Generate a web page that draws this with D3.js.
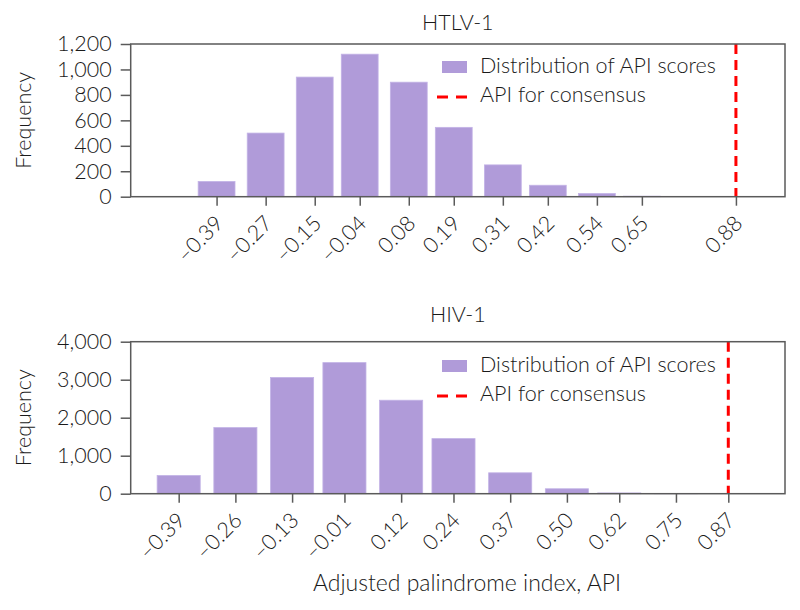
<!DOCTYPE html>
<html>
<head>
<meta charset="utf-8">
<script src="https://cdn.jsdelivr.net/npm/d3@7/dist/d3.min.js"></script>
<style>
  html, body { margin: 0; padding: 0; background: #fff; }
  text { font-family: Lato, "Open Sans", sans-serif; font-weight: 300; fill: #1a1a1a; }
</style>
</head>
<body>
<svg id="chart" width="800" height="610"></svg>
<script>
// ---- Data ----
const htlvBins = [-0.39, -0.27, -0.15, -0.04, 0.08, 0.19, 0.31, 0.42, 0.54, 0.65];
const htlvCounts = [120, 500, 940, 1120, 900, 545, 250, 90, 25, 4];
const htlvTicks = ["-0.39", "-0.27", "-0.15", "-0.04", "0.08", "0.19", "0.31", "0.42", "0.54", "0.65", "0.88"];
const htlvConsensus = 0.88;
const htlvYTicks = [0, 200, 400, 600, 800, 1000, 1200];

const hivBins = [-0.39, -0.26, -0.13, -0.01, 0.12, 0.24, 0.37, 0.50, 0.62, 0.75];
const hivCounts = [480, 1740, 3060, 3450, 2460, 1450, 550, 130, 20, 3];
const hivTicks = ["-0.39", "-0.26", "-0.13", "-0.01", "0.12", "0.24", "0.37", "0.50", "0.62", "0.75", "0.87"];
const hivConsensus = 0.87;
const hivYTicks = [0, 1000, 2000, 3000, 4000];

const titles = ["HTLV-1", "HIV-1"];
const legendLabels = ["Distribution of API scores", "API for consensus"];
const yLabel = "Frequency";
const xLabel = "Adjusted palindrome index, API";

// ---- Drawing ----
const svg = d3.select("#chart");
const barColor = "#b09bd9";
const axisColor = "#5a5a5a";
const fmt = d3.format(",");
const minus = s => s.replace("-", "\u2013");
const FS = "21.5px";

function panel(opt) {
  const { left, right, top, bottom, xDomain, yDomain, bins, counts, ticks, consensus, yTicks, title, titleY, legendY } = opt;
  const g = svg.append("g");
  const x = d3.scaleLinear().domain(xDomain).range([left, right]);
  const y = d3.scaleLinear().domain(yDomain).range([bottom, top]);

  const step = (bins[bins.length - 1] - bins[0]) / (bins.length - 1);
  const bw = (x(step) - x(0)) * 0.78;

  // bars
  g.selectAll("rect.bar").data(bins).join("rect")
    .attr("class", "bar")
    .attr("x", (d) => x(d) - bw / 2)
    .attr("width", bw)
    .attr("y", (d, i) => y(counts[i]))
    .attr("height", (d, i) => y(0) - y(counts[i]))
    .attr("fill", barColor)
    .attr("stroke", "#c3b3e6")
    .attr("stroke-width", 0.8);

  // consensus line
  g.append("line")
    .attr("x1", x(consensus)).attr("x2", x(consensus))
    .attr("y1", top).attr("y2", bottom)
    .attr("stroke", "#ff0000").attr("stroke-width", 3)
    .attr("stroke-dasharray", "10,6");

  // frame
  g.append("rect")
    .attr("x", left).attr("y", top)
    .attr("width", right - left).attr("height", bottom - top)
    .attr("fill", "none").attr("stroke", axisColor).attr("stroke-width", 1.5);

  // y axis
  const yAxis = d3.axisLeft(y).tickValues(yTicks).tickFormat(fmt).tickSize(10).tickPadding(9);
  const ya = g.append("g").attr("transform", `translate(${left},0)`).call(yAxis);
  ya.select(".domain").remove();
  ya.selectAll(".tick line").attr("stroke", axisColor).attr("stroke-width", 1.5);
  ya.selectAll(".tick text").style("font-size", FS).attr("fill", "#1a1a1a")
    .style("font-family", "Lato, 'Open Sans', sans-serif").style("font-weight", 300);

  // x axis
  const xAxis = d3.axisBottom(x).tickValues(ticks.map(Number)).tickSize(9).tickFormat("");
  const xa = g.append("g").attr("transform", `translate(0,${bottom})`).call(xAxis);
  xa.select(".domain").remove();
  xa.selectAll(".tick line").attr("stroke", axisColor).attr("stroke-width", 1.5);
  g.selectAll("text.xtick").data(ticks).join("text")
    .attr("class", "xtick")
    .attr("transform", d => `translate(${x(+d) + 8},${bottom + 28}) rotate(-45)`)
    .attr("text-anchor", "end")
    .style("font-size", FS)
    .text(d => minus(d));

  // title
  g.append("text").attr("x", (left + right) / 2).attr("y", titleY)
    .attr("text-anchor", "middle").style("font-size", FS).text(title);

  // y label
  g.append("text")
    .attr("transform", `translate(31,${(top + bottom) / 2}) rotate(-90)`)
    .attr("text-anchor", "middle").style("font-size", FS).text(yLabel);

  // legend
  g.append("rect").attr("x", 442).attr("y", legendY - 12).attr("width", 25).attr("height", 12)
    .attr("fill", barColor);
  g.append("text").attr("x", 480).attr("y", legendY).style("font-size", FS).text(legendLabels[0]);
  g.append("line").attr("x1", 437).attr("x2", 467)
    .attr("y1", legendY + 24).attr("y2", legendY + 24)
    .attr("stroke", "#ff0000").attr("stroke-width", 3).attr("stroke-dasharray", "11,8");
  g.append("text").attr("x", 480).attr("y", legendY + 29).style("font-size", FS).text(legendLabels[1]);
}

panel({
  left: 130.7, right: 785, top: 44, bottom: 196.7,
  xDomain: [-0.6, 1.0], yDomain: [0, 1200],
  bins: htlvBins, counts: htlvCounts, ticks: htlvTicks, consensus: htlvConsensus,
  yTicks: htlvYTicks, title: titles[0], titleY: 30, legendY: 73
});
panel({
  left: 130.7, right: 785, top: 341.7, bottom: 493.7,
  xDomain: [-0.5, 1.0], yDomain: [0, 4000],
  bins: hivBins, counts: hivCounts, ticks: hivTicks, consensus: hivConsensus,
  yTicks: hivYTicks, title: titles[1], titleY: 322, legendY: 372
});

svg.append("text").attr("x", 467).attr("y", 591)
  .attr("text-anchor", "middle").style("font-size", "23px").text(xLabel);
</script>
</body>
</html>
